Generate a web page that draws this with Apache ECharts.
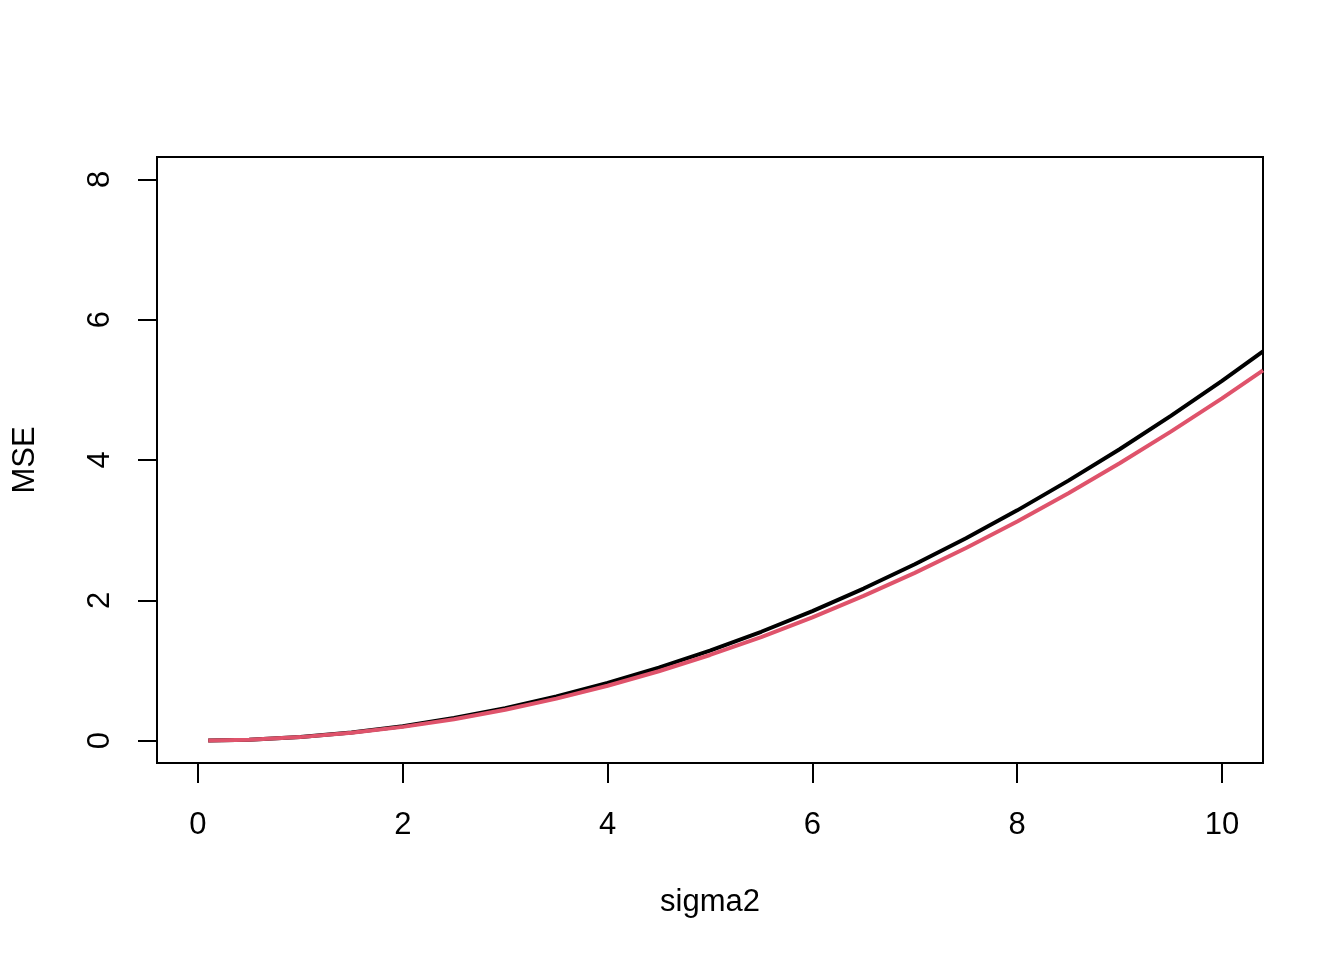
<!DOCTYPE html>
<html>
<head>
<meta charset="utf-8">
<script src="https://cdn.jsdelivr.net/npm/echarts@6/dist/echarts.min.js"></script>
<style>html,body{margin:0;padding:0;background:#fff;}#c{width:1344px;height:960px;}</style>
</head>
<body>
<div id="c"></div>
<script>
const sigma2 = [0.1, 0.5, 1.0, 1.5, 2.0, 2.5, 3.0, 3.5, 4.0, 4.5, 5.0, 5.5, 6.0, 6.5, 7.0, 7.5, 8.0, 8.5, 9.0, 9.5, 10.0, 10.4];
const mseBlack = [0.0005, 0.0128, 0.051, 0.115, 0.205, 0.321, 0.462, 0.628, 0.821, 1.039, 1.282, 1.551, 1.846, 2.167, 2.513, 2.885, 3.282, 3.706, 4.154, 4.629, 5.128, 5.548];
const mseRed = [0.0005, 0.0122, 0.049, 0.110, 0.195, 0.305, 0.439, 0.598, 0.781, 0.988, 1.220, 1.476, 1.757, 2.062, 2.391, 2.745, 3.123, 3.526, 3.953, 4.404, 4.878, 5.278];
const xTicks = [0, 2, 4, 6, 8, 10];
const yTicks = [0, 2, 4, 6, 8];

const font = 'Liberation Sans, Arial, sans-serif';
const chart = echarts.init(document.getElementById('c'), null, {renderer: 'canvas'});
chart.setOption({
  animation: false,
  backgroundColor: '#fff',
  grid: {left: 157, right: 81, top: 157, bottom: 197, containLabel: false, outerBoundsMode: 'none',
         show: true, borderColor: '#000', borderWidth: 2, backgroundColor: 'transparent'},
  xAxis: {
    type: 'value', min: -0.4, max: 10.4,
    name: 'sigma2', nameLocation: 'middle', nameGap: 124,
    nameTextStyle: {fontFamily: font, fontSize: 31, color: '#000'},
    axisLine: {show: false, onZero: false},
    splitLine: {show: false},
    axisTick: {show: true, inside: false, length: 20, customValues: xTicks, lineStyle: {color: '#000', width: 2}},
    axisLabel: {customValues: xTicks, margin: 47, fontFamily: font, fontSize: 31, color: '#000'}
  },
  yAxis: {
    type: 'value', min: -0.32, max: 8.32,
    name: 'MSE', nameLocation: 'middle', nameGap: 116, nameRotate: 90,
    nameTextStyle: {fontFamily: font, fontSize: 31, color: '#000'},
    axisLine: {show: false, onZero: false},
    splitLine: {show: false},
    axisTick: {show: true, inside: false, length: 19, customValues: yTicks, lineStyle: {color: '#000', width: 2}},
    axisLabel: {customValues: yTicks, rotate: 90, margin: 57, fontFamily: font, fontSize: 31, color: '#000', align: 'center', verticalAlign: 'middle'}
  },
  series: [
    {type: 'line', data: sigma2.map((x, i) => [x, mseBlack[i]]), showSymbol: false, smooth: false, clip: true,
     lineStyle: {color: '#000', width: 4}},
    {type: 'line', data: sigma2.map((x, i) => [x, mseRed[i]]), showSymbol: false, smooth: false, clip: true,
     lineStyle: {color: '#DF536B', width: 4}}
  ]
});
</script>
</body>
</html>
